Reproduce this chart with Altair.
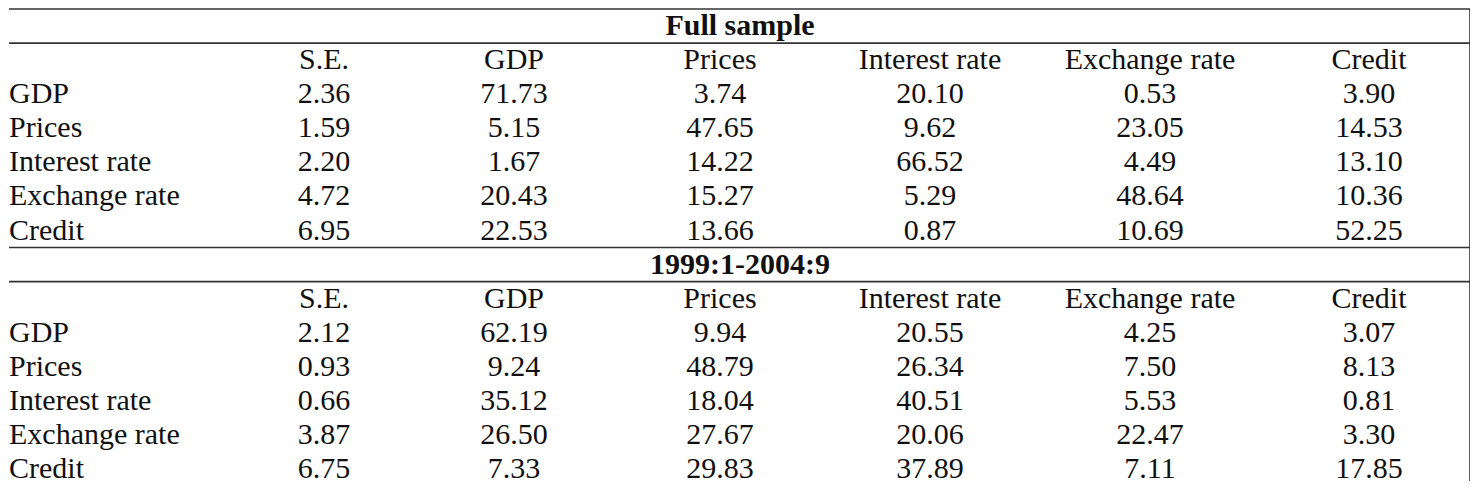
import altair as alt
import pandas as pd

# ---- data ----
col_names = ["S.E.", "GDP", "Prices", "Interest rate", "Exchange rate", "Credit"]
row_names = ["GDP", "Prices", "Interest rate", "Exchange rate", "Credit"]
block_titles = ["Full sample", "1999:1-2004:9"]

full_gdp = [2.36, 71.73, 3.74, 20.10, 0.53, 3.90]
full_prices = [1.59, 5.15, 47.65, 9.62, 23.05, 14.53]
full_interest = [2.20, 1.67, 14.22, 66.52, 4.49, 13.10]
full_exchange = [4.72, 20.43, 15.27, 5.29, 48.64, 10.36]
full_credit = [6.95, 22.53, 13.66, 0.87, 10.69, 52.25]

sub_gdp = [2.12, 62.19, 9.94, 20.55, 4.25, 3.07]
sub_prices = [0.93, 9.24, 48.79, 26.34, 7.50, 8.13]
sub_interest = [0.66, 35.12, 18.04, 40.51, 5.53, 0.81]
sub_exchange = [3.87, 26.50, 27.67, 20.06, 22.47, 3.30]
sub_credit = [6.75, 7.33, 29.83, 37.89, 7.11, 17.85]

blocks = [
    [full_gdp, full_prices, full_interest, full_exchange, full_credit],
    [sub_gdp, sub_prices, sub_interest, sub_exchange, sub_credit],
]

# ---- layout ----
W, H = 1462, 476
BLOCK = 7          # row slots per block
Y_MAX = 13.85
col_centers = [315, 505, 711, 921, 1141, 1360]
FONT = "Liberation Serif"
FS = 30
INK = "#111111"
LINE = "#333333"

cells, headers, labels, titles, hlines = [], [], [], [], []
for b, (title, block) in enumerate(zip(block_titles, blocks)):
    base = b * BLOCK
    titles.append({"text": title, "slot": base + 0.5})
    hlines.append({"slot": base + 0.0})
    hlines.append({"slot": base + 1.0})
    for j, c in enumerate(col_names):
        headers.append({"col": c, "ci": j, "slot": base + 1.5})
    for i, (rn, vals) in enumerate(zip(row_names, block)):
        labels.append({"text": rn, "slot": base + 2.5 + i})
        for j, (c, v) in enumerate(zip(col_names, vals)):
            cells.append({"col": c, "ci": j, "value": v, "slot": base + 2.5 + i})

cells_df = pd.DataFrame(cells)
headers_df = pd.DataFrame(headers)
labels_df = pd.DataFrame(labels)
titles_df = pd.DataFrame(titles)
hlines_df = pd.DataFrame(hlines)
vline_df = pd.DataFrame([{"slot": 0.0, "slot2": Y_MAX}])

yscale = alt.Scale(domain=[0, Y_MAX], reverse=True, nice=False, zero=False)
xscale = alt.Scale(domain=list(range(len(col_names))), range=col_centers,
                   nice=False, zero=False)

def Y(field="slot:Q"):
    return alt.Y(field, scale=yscale, axis=None)

text_base = dict(font=FONT, fontSize=FS, color=INK, baseline="middle")

cell_layer = alt.Chart(cells_df).mark_text(align="center", **text_base).encode(
    x=alt.X("ci:Q", scale=xscale, axis=None),
    y=Y(),
    text=alt.Text("value:Q", format=".2f"),
)

header_layer = alt.Chart(headers_df).mark_text(align="center", **text_base).encode(
    x=alt.X("ci:Q", scale=xscale, axis=None),
    y=Y(),
    text="col:N",
)

label_layer = alt.Chart(labels_df).mark_text(align="left", **text_base).encode(
    x=alt.value(0),
    y=Y(),
    text="text:N",
)

title_layer = alt.Chart(titles_df).mark_text(align="center", fontWeight="bold", **text_base).encode(
    x=alt.value(W / 2),
    y=Y(),
    text="text:N",
)

hline_layer = alt.Chart(hlines_df).mark_rule(color=LINE, strokeWidth=1.6).encode(
    x=alt.value(0),
    x2=alt.value(W - 1),
    y=Y(),
)

vline_layer = alt.Chart(vline_df).mark_rule(color=LINE, strokeWidth=1.6).encode(
    x=alt.value(W - 1),
    y=Y(),
    y2="slot2:Q",
)

chart = alt.layer(
    hline_layer, vline_layer, title_layer, header_layer, label_layer, cell_layer
).properties(
    width=W,
    height=H,
    padding=0,
    autosize=alt.AutoSizeParams(type="fit", contains="padding"),
    background="white",
).configure_view(strokeWidth=0)

chart.save("out.html", embed_options={"renderer": "svg", "actions": False})
